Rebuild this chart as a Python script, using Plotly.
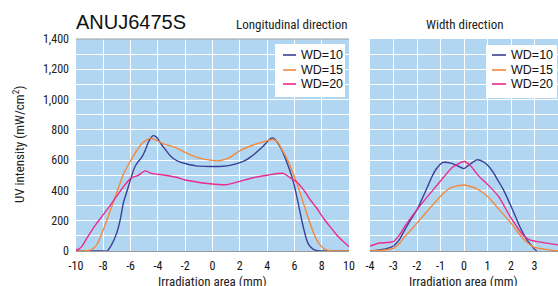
import plotly.graph_objects as go

# ---------------- data ----------------
series_names = ["WD=10", "WD=15", "WD=20"]
series_colors = ["#3B3F98", "#F5883A", "#EC2A8E"]

# Longitudinal direction (mm, mW/cm2)
long_x_wd10 = [-10, -8, -7.71, -7.4, -7.02, -6.75, -6.53, -6.25, -6.0, -5.71, -5.45, -5.19, -4.95, -4.70, -4.5, -4.34, -4.15, -4.0, -3.75, -3.48, -3.2, -2.87, -2.5, -2.0, -1.2, -0.2, 0.5, 1.04, 1.5, 2.0, 2.4, 2.75, 3.1, 3.48, 3.8, 4.09, 4.25, 4.41, 4.6, 4.82, 5.05, 5.31, 5.55, 5.80, 6.0, 6.17, 6.35, 6.53, 6.7, 6.90, 7.1, 7.39, 7.6, 7.87, 8.5, 10]
long_y_wd10 = [0, 0, 0, 40, 118, 210, 318, 400, 473, 551, 590, 618, 660, 718, 750, 762, 755, 740, 705, 673, 640, 611, 592, 578, 562, 558, 558, 562, 570, 584, 598, 618, 642, 673, 700, 729, 742, 747, 735, 707, 670, 618, 560, 496, 430, 362, 285, 207, 140, 73, 35, 11, 3, 0, 0, 0]
long_x_wd15 = [-10, -9.5, -9.1, -8.85, -8.48, -8.0, -7.51, -7.02, -6.53, -6.0, -5.56, -5.07, -4.58, -4.21, -3.60, -2.87, -2.0, -1.16, -0.18, 0.5, 1.28, 2.0, 2.99, 3.85, 4.46, 4.8, 5.07, 5.4, 5.68, 6.17, 6.65, 7.14, 7.63, 8.12, 8.6, 9.2, 10]
long_y_wd15 = [0, 0, 3, 10, 40, 140, 262, 384, 507, 596, 662, 718, 744, 736, 707, 689, 651, 618, 600, 596, 618, 662, 700, 724, 736, 715, 673, 620, 562, 451, 318, 184, 73, 18, 2, 0, 0]
long_x_wd20 = [-10, -9.8, -9.58, -9.3, -8.97, -8.48, -8.0, -7.51, -7.02, -6.53, -6.0, -5.44, -4.95, -4.46, -3.6, -2.63, -2.0, -1.16, -0.18, 1.04, 2.0, 2.99, 4.09, 5.19, 5.68, 6.17, 6.65, 7.14, 7.63, 8.12, 8.6, 9.09, 9.58, 10]
long_y_wd20 = [5, 12, 29, 70, 118, 184, 240, 300, 362, 424, 480, 500, 529, 513, 502, 487, 469, 456, 444, 438, 460, 484, 502, 513, 484, 456, 407, 340, 284, 218, 162, 107, 62, 29]

# Width direction (mm, mW/cm2)
width_x_wd10 = [-4, -3.63, -3.3, -3.0, -2.75, -2.52, -2.25, -2.0, -1.75, -1.54, -1.35, -1.19, -0.92, -0.56, -0.22, 0.0, 0.2, 0.55, 0.83, 1.05, 1.25, 1.45, 1.67, 2.0, 2.2, 2.37, 2.64, 2.85, 3.0, 3.1]
width_y_wd10 = [0, 7, 15, 33, 75, 140, 210, 273, 355, 429, 495, 540, 584, 580, 558, 544, 567, 602, 589, 560, 518, 465, 407, 296, 225, 162, 84, 40, 12, 0]
width_x_wd15 = [-4, -3.5, -3.0, -2.75, -2.52, -2.25, -2.0, -1.54, -1.0, -0.56, 0.0, 0.55, 1.0, 1.5, 2.0, 2.5, 2.75, 3.0, 3.48, 3.88, 4]
width_y_wd15 = [0, 5, 18, 50, 95, 140, 184, 267, 362, 418, 436, 411, 362, 273, 184, 84, 48, 24, 11, 2, 1]
width_x_wd20 = [-4, -3.63, -3.0, -2.75, -2.52, -2.0, -1.54, -1.0, -0.5, 0.0, 0.29, 0.62, 1.0, 1.46, 2.0, 2.5, 2.79, 3.2, 3.88, 4]
width_y_wd20 = [33, 51, 62, 105, 162, 273, 362, 462, 551, 591, 562, 496, 440, 362, 218, 107, 73, 60, 44, 40]

y_ticks = [0, 200, 400, 600, 800, 1000, 1200, 1400]
y_tick_labels = ["0", "200", "400", "600", "800", "1,000", "1,200", "1,400"]
long_x_ticks = [-10, -8, -6, -4, -2, 0, 2, 4, 6, 8, 10]
width_x_ticks = [-4, -3, -2, -1, 0, 1, 2, 3, 4]

title_text = "ANUJ6475S"
long_title = "Longitudinal direction"
width_title = "Width direction"
x_title = "Irradiation area (mm)"
y_title = "UV intensity (mW/cm<sup>2</sup>)"

# ---------------- figure ----------------
W, H = 558, 286
BG = "#B0D6F2"
NARROW = "Liberation Sans Narrow, Arial Narrow, Roboto Condensed, Roboto, Liberation Sans, Arial, sans-serif"
REG = "Liberation Sans, Arial, sans-serif"

fig = go.Figure()

long_sets = [(long_x_wd10, long_y_wd10), (long_x_wd15, long_y_wd15), (long_x_wd20, long_y_wd20)]
width_sets = [(width_x_wd10, width_y_wd10), (width_x_wd15, width_y_wd15), (width_x_wd20, width_y_wd20)]

for (xs, ys), name, col in zip(long_sets, series_names, series_colors):
    fig.add_trace(go.Scatter(x=xs, y=ys, name=name, mode="lines", line=dict(color=col, width=1.4, shape="spline", smoothing=0.6),
                             xaxis="x", yaxis="y", showlegend=False, cliponaxis=True))
for (xs, ys), name, col in zip(width_sets, series_names, series_colors):
    fig.add_trace(go.Scatter(x=xs, y=ys, name=name, mode="lines", line=dict(color=col, width=1.4, shape="spline", smoothing=0.6),
                             xaxis="x2", yaxis="y2", showlegend=False, cliponaxis=True))

def px(v):
    return v / W

def py(v):
    return 1 - v / H

y_dom = [py(251), py(39)]
common_y = dict(range=[0, 1400], tickvals=y_ticks, showgrid=True, gridcolor="white", gridwidth=1.3,
                minor=dict(dtick=100, showgrid=True, gridcolor="white", gridwidth=1.3),
                zeroline=False, fixedrange=True, domain=y_dom, ticks="", automargin=False)

fig.update_layout(
    width=W, height=H,
    margin=dict(l=0, r=0, t=0, b=0, autoexpand=False),
    paper_bgcolor="white",
    plot_bgcolor=BG,
    font=dict(family=NARROW, size=12, color="#222222"),
    xaxis=dict(domain=[px(76), px(349)], range=[-10, 10], tickvals=long_x_ticks,
               ticktext=[str(t) for t in long_x_ticks], showgrid=True, gridcolor="white", gridwidth=1.3,
               zeroline=False, showline=True, linecolor="#9a9a9a", linewidth=1.2, mirror=False,
               ticks="", ticklabelstandoff=3, tickfont=dict(size=12, color="#111111", family=NARROW),
               anchor="y", automargin=False),
    yaxis=dict(**common_y, tickmode="array", ticktext=y_tick_labels,
               tickfont=dict(size=12, color="#222222", family=NARROW), anchor="x",
               ticklabelstandoff=6),
    xaxis2=dict(domain=[px(370), 1.0], range=[-4, 4], tickvals=width_x_ticks,
                ticktext=[str(t) for t in width_x_ticks], showgrid=True, gridcolor="white", gridwidth=1.3,
                zeroline=False, showline=True, linecolor="#9a9a9a", linewidth=1.2,
                ticks="", ticklabelstandoff=3, tickfont=dict(size=12, color="#111111", family=NARROW),
                anchor="y2", automargin=False),
    yaxis2=dict(**common_y, showticklabels=False, anchor="x2"),
)

# top border line on the longitudinal plot
fig.add_shape(type="line", xref="x domain", yref="y domain", x0=0, x1=1, y0=1, y1=1,
              line=dict(color="#a0a0a0", width=1.2))

# texts
anns = [
    dict(text=title_text, x=px(74), y=py(22), xanchor="left", yanchor="middle",
         font=dict(family=REG, size=20, color="#111111")),
    dict(text=long_title, x=px(349), y=py(25), xanchor="right", yanchor="middle",
         font=dict(family=NARROW, size=13, color="#222222")),
    dict(text=width_title, x=px(464), y=py(25), xanchor="center", yanchor="middle",
         font=dict(family=NARROW, size=13, color="#222222")),
    dict(text=x_title, x=px(212), y=py(281), xanchor="center", yanchor="middle",
         font=dict(family=NARROW, size=13, color="#222222")),
    dict(text=x_title, x=px(463), y=py(281), xanchor="center", yanchor="middle",
         font=dict(family=NARROW, size=13, color="#222222")),
    dict(text=y_title, x=px(19), y=py(145), xanchor="center", yanchor="middle", textangle=-90,
         font=dict(family=NARROW, size=13, color="#222222")),
]
for a in anns:
    fig.add_annotation(xref="paper", yref="paper", showarrow=False, **a)

# legends (drawn boxes, one per panel)
legend_boxes = [(275, 345, 44, 97, 283, 296, 299), (486, 557, 45, 98, 492, 506, 509)]
row_ys = [55, 70, 84]
for (bx0, bx1, by0, by1, lx0, lx1, tx) in legend_boxes:
    fig.add_shape(type="rect", xref="paper", yref="paper", x0=px(bx0), x1=px(bx1), y0=py(by1), y1=py(by0),
                  fillcolor="white", line=dict(width=0), layer="above")
    for name, col, ry in zip(series_names, series_colors, row_ys):
        fig.add_shape(type="line", xref="paper", yref="paper", x0=px(lx0), x1=px(lx1), y0=py(ry), y1=py(ry),
                      line=dict(color=col, width=1.6), layer="above")
        fig.add_annotation(xref="paper", yref="paper", showarrow=False, text=name, x=px(tx), y=py(ry),
                           xanchor="left", yanchor="middle", font=dict(family=REG, size=12.5, color="#111111"))

fig.write_html("out.html", config={"displayModeBar": False},
               post_script="document.body.style.margin='0';document.body.style.padding='0';document.body.style.overflow='hidden';")
